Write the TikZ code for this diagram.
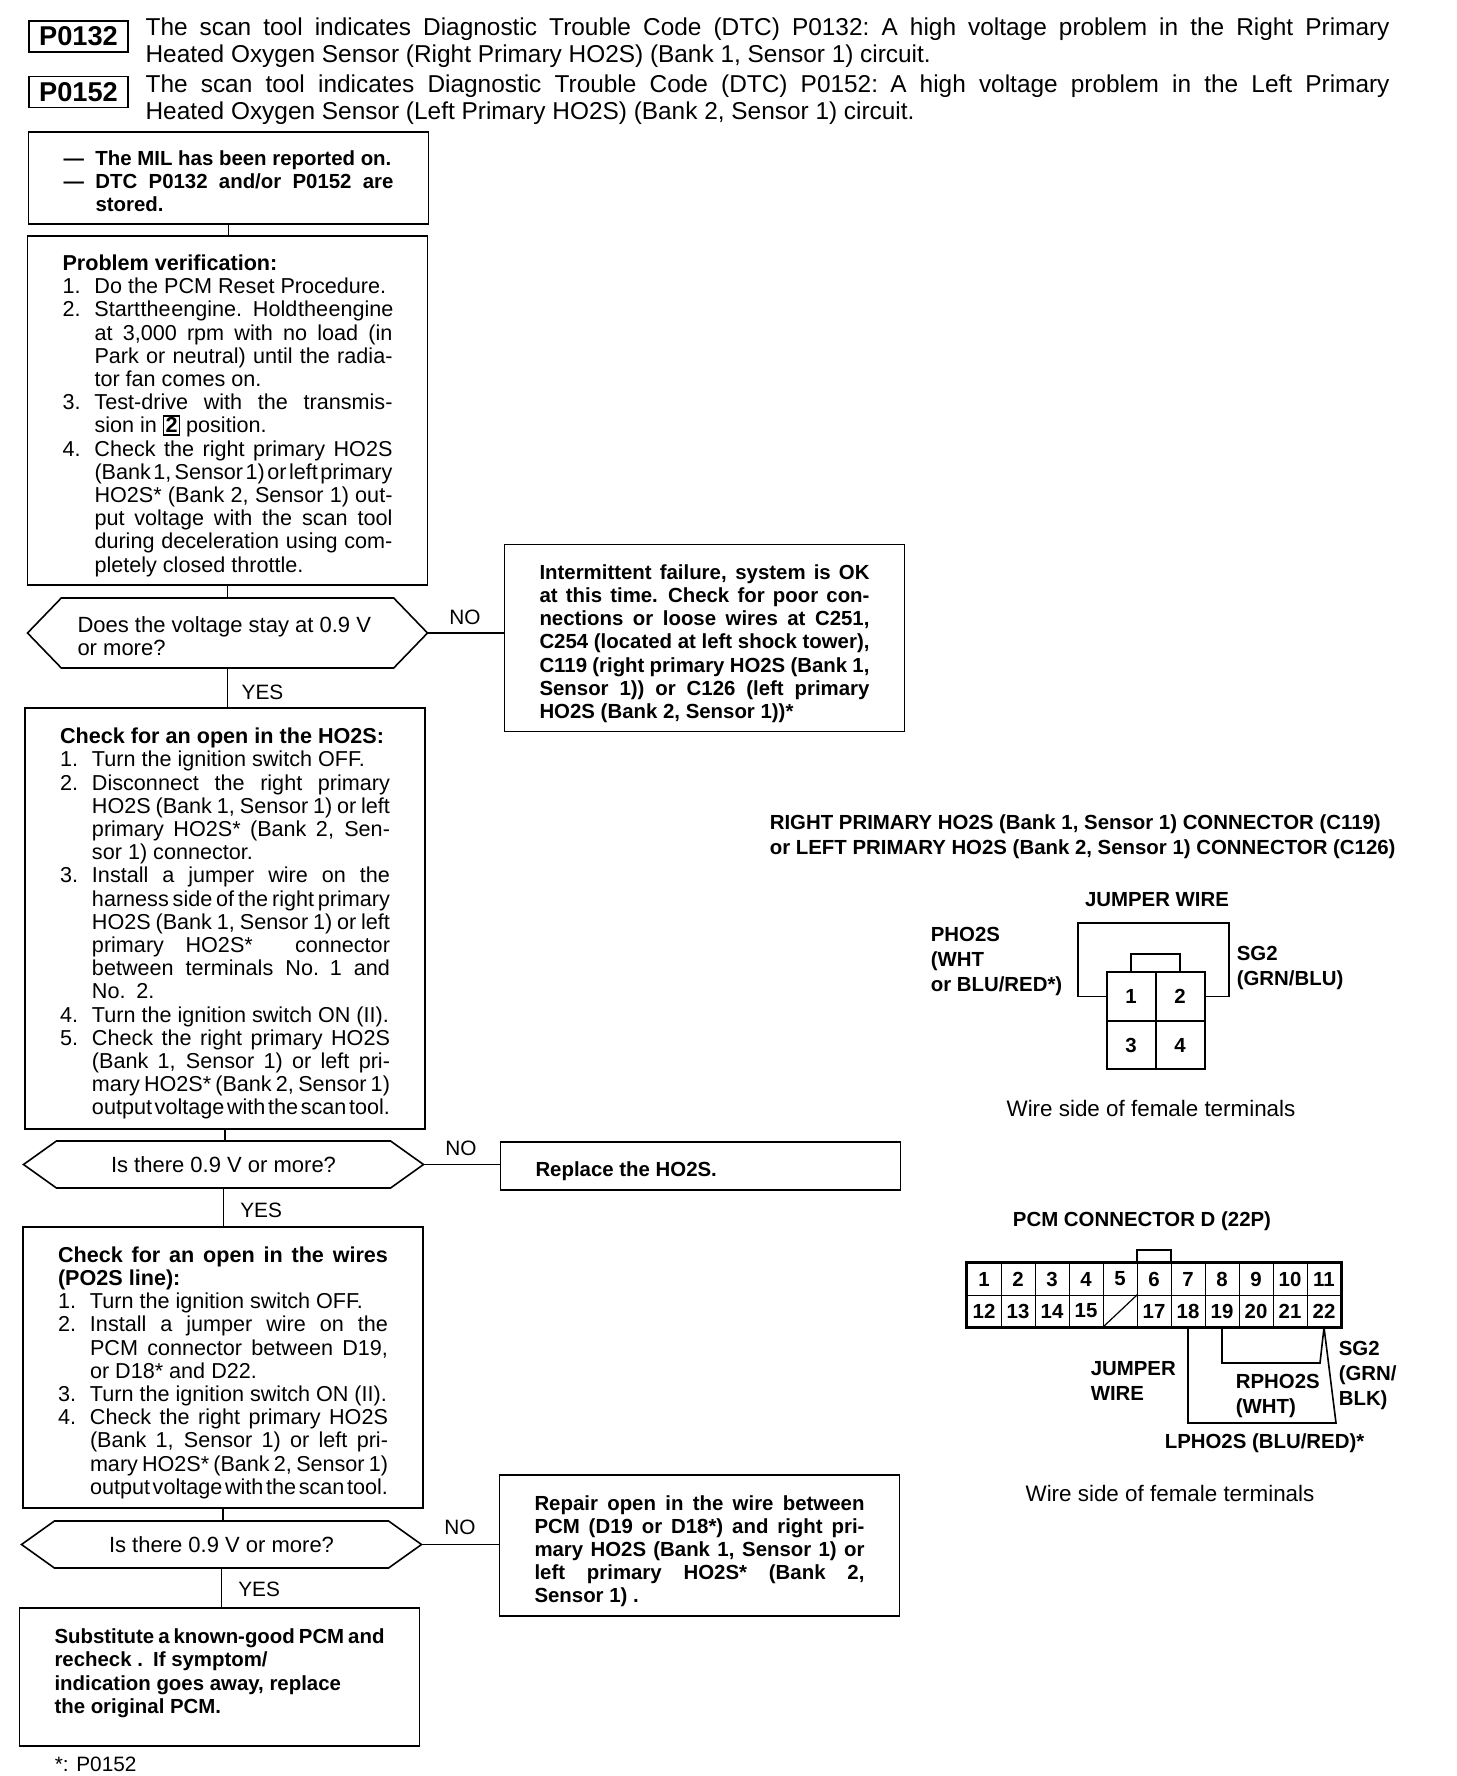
\documentclass[tikz,border=0pt]{standalone}
\usepackage{fontspec}
\setmainfont{Liberation Sans}
\usetikzlibrary{positioning,shapes.symbols}
\newcommand{\skp}{\spaceskip=.278em plus 1em minus .25em\relax}
\newcommand{\jl}[1]{\hbox to \hsize{\skp #1}}
\newcommand{\rl}[1]{\hbox to \hsize{\skp #1\hfil}}
\newcommand{\jn}[2]{\hbox{\hbox to 16pt{#1\hfil}\hbox to 149pt{\skp #2}}}
\newcommand{\rn}[2]{\hbox{\hbox to 16pt{#1\hfil}\hbox to 149pt{\skp #2\hfil}}}
\newcommand{\sq}[1]{{\fboxsep=0.6pt\fboxrule=0.7pt\fbox{\textbf{#1}}}}
\begin{document}
\begin{tikzpicture}[x=0.5pt,y=-0.5pt,line width=0.8pt,
  txt/.style={font=\fontsize{10.8}{11.6}\selectfont},
  bld/.style={font=\fontsize{10.2}{11.6}\selectfont\bfseries},
  bx/.style={draw=black,text width=165pt,inner xsep=17.5pt,inner ysep=0pt,outer sep=0pt,minimum height=#1,execute at begin node=\vskip 1.5pt},
  bx/.default=24pt,
  dc/.style={draw=black,shape=signal,signal to=west and east,signal pointer angle=71,minimum width=200pt,minimum height=23.5pt,inner sep=0pt,outer sep=0pt,font=\fontsize{11}{11.6}\selectfont},
  code/.style={draw=black,minimum width=49.5pt,minimum height=15.5pt,inner sep=0pt,font=\fontsize{13.6}{14}\selectfont\bfseries},
  hd/.style={text width=622pt,inner sep=0pt,font=\fontsize{12.2}{13.4}\selectfont},
  lb/.style={inner sep=0pt,align=left,font=\fontsize{10.2}{12.5}\selectfont\bfseries},
  lbt/.style={inner sep=0pt,align=left,font=\fontsize{11.2}{12.5}\selectfont},
  yn/.style={inner sep=0pt,font=\fontsize{10.4}{12}\selectfont},
  cl/.style={draw=black,line width=0.5pt,minimum width=24pt,minimum height=23.75pt,inner sep=0pt,bld},
  pn/.style={draw=black,line width=0.4pt,minimum width=17pt,minimum height=16pt,inner sep=0pt,bld}]
  \useasboundingbox (0,0) rectangle (1456,1776);
  \node[code] (p0132) at (78.5,36.5) {P0132};
  \node[code,below=11.5pt of p0132] (p0152) {P0152};
  \node[hd,right=8pt of p0132,yshift=-3.2pt] (t0132) {
    \jl{The scan tool indicates Diagnostic Trouble Code (DTC) P0132: A high voltage problem in the Right Primary}
    \rl{Heated Oxygen Sensor (Right Primary HO2S) (Bank 1, Sensor 1) circuit.}};
  \node[hd,right=8pt of p0152,yshift=-3.7pt] (t0152) {
    \jl{The scan tool indicates Diagnostic Trouble Code (DTC) P0152: A high voltage problem in the Left Primary}
    \rl{Heated Oxygen Sensor (Left Primary HO2S) (Bank 2, Sensor 1) circuit.}};

  \node[bx=46pt,bld,execute at begin node=\vskip -2.3pt] (mil) at (228.5,178) {
    \rn{---}{The MIL has been reported on.}
    \jn{---}{DTC P0132 and/or P0152 are}
    \rn{}{stored.}};
  \node[bx=174.5pt,txt,below=6pt of mil,xshift=-0.5pt] (prob) {
    \rl{\textbf{Problem verification:}}
    \rn{1.}{Do the PCM Reset Procedure.}
    \jn{2.}{Start the engine. Hold the engine}
    \jn{}{at 3,000 rpm with no load (in}
    \jn{}{Park or neutral) until the radia-}
    \rn{}{tor fan comes on.}
    \jn{3.}{Test-drive with the transmis-}
    \rn{}{sion in \sq{2} position.}
    \jn{4.}{Check the right primary HO2S}
    \jn{}{(Bank 1, Sensor 1) or left primary}
    \jn{}{HO2S* (Bank 2, Sensor 1) out-}
    \jn{}{put voltage with the scan tool}
    \jn{}{during deceleration using com-}
    \rn{}{pletely closed throttle.}};
  \node[dc,below=6.5pt of prob,minimum height=35pt,signal pointer angle=92] (volt) {\vbox{\hsize=150pt\vskip 3pt\rl{Does the voltage stay at 0.9 V}\rl{or more?}}};
  \node[bx=93.5pt,bld,right=38.5pt of volt,yshift=-2.5pt] (intm) {
    \jl{Intermittent failure, system is OK}
    \jl{at this time. Check for poor con-}
    \jl{nections or loose wires at C251,}
    \jl{C254 (located at left shock tower),}
    \jl{C119 (right primary HO2S (Bank 1,}
    \jl{Sensor 1)) or C126 (left primary}
    \rl{HO2S (Bank 2, Sensor 1))*}};
  \node[yn,right=10.5pt of volt.east,yshift=8pt] (no1) {NO};
  \node[yn,below right=8pt and 6.7pt of volt.south] (yes1) {YES};

  \node[bx=210.5pt,txt,below=20pt of volt,xshift=-1.25pt] (hoos) {
    \rl{\textbf{Check for an open in the HO2S:}}
    \rn{1.}{Turn the ignition switch OFF.}
    \jn{2.}{Disconnect the right primary}
    \jn{}{HO2S (Bank 1, Sensor 1) or left}
    \jn{}{primary HO2S* (Bank 2, Sen-}
    \rn{}{sor 1) connector.}
    \jn{3.}{Install a jumper wire on the}
    \jn{}{harness side of the right primary}
    \jn{}{HO2S (Bank 1, Sensor 1) or left}
    \jn{}{primary\quad HO2S* connector}
    \jn{}{between terminals No. 1 and}
    \rn{}{No. 2.}
    \rn{4.}{Turn the ignition switch ON (II).}
    \jn{5.}{Check the right primary HO2S}
    \jn{}{(Bank 1, Sensor 1) or left pri-}
    \jn{}{mary HO2S* (Bank 2, Sensor 1)}
    \jn{}{output voltage with the scan tool.}};
  \node[dc,below=6pt of hoos,xshift=-0.75pt] (chk1) {Is there 0.9 V or more?};
  \node[bx=24pt,bld,right=38.5pt of chk1,yshift=-0.75pt] (repl) {\rl{Replace the HO2S.}};
  \node[yn,right=10.5pt of chk1.east,yshift=8pt] (no2) {NO};
  \node[yn,below right=7pt and 8pt of chk1.south] (yes2) {YES};

  \node[bx=140.5pt,txt,below=19.5pt of chk1,xshift=-0.25pt] (wire) {
    \jl{\textbf{Check for an open in the wires}}
    \rl{\textbf{(PO2S line):}}
    \rn{1.}{Turn the ignition switch OFF.}
    \jn{2.}{Install a jumper wire on the}
    \jn{}{PCM connector between D19,}
    \rn{}{or D18* and D22.}
    \rn{3.}{Turn the ignition switch ON (II).}
    \jn{4.}{Check the right primary HO2S}
    \jn{}{(Bank 1, Sensor 1) or left pri-}
    \jn{}{mary HO2S* (Bank 2, Sensor 1)}
    \jn{}{output voltage with the scan tool.}};
  \node[dc,below=6.5pt of wire,xshift=-0.75pt] (chk2) {Is there 0.9 V or more?};
  \node[bx=70.5pt,bld,right=39pt of chk2,yshift=-0.5pt] (rpr) {
    \jl{Repair open in the wire between}
    \jl{PCM (D19 or D18*) and right pri-}
    \jl{mary HO2S (Bank 1, Sensor 1) or}
    \jl{left primary HO2S* (Bank 2,}
    \rl{Sensor 1) .}};
  \node[yn,right=11pt of chk2.east,yshift=8.5pt] (no3) {NO};
  \node[yn,below right=6.5pt and 8pt of chk2.south] (yes3) {YES};

  \node[bx=69pt,bld,below=20pt of chk2,xshift=-1pt] (sub) {
    \jl{Substitute a known-good PCM and}
    \rl{recheck . If symptom/}
    \rl{indication goes away, replace}
    \rl{the original PCM.}
    \hbox{}};
  \node[yn,anchor=west] (note) at (54,1764) {*: P0152};

  \draw (mil.south) -- (mil.south |- prob.north);
  \draw (prob.south) -- (prob.south |- volt.north);
  \draw (volt.south) -- (volt.south |- hoos.north);
  \draw (hoos.south) -- (hoos.south |- chk1.north);
  \draw (chk1.south) -- (chk1.south |- wire.north);
  \draw (wire.south) -- (wire.south |- chk2.north);
  \draw (chk2.south) -- (chk2.south |- sub.north);
  \draw (volt.east) -- (volt.east -| intm.west);
  \draw (chk1.east) -- (chk1.east -| repl.west);
  \draw (chk2.east) -- (chk2.east -| rpr.west);

  \node[lb,anchor=west] (ttl) at (769,837) {RIGHT PRIMARY HO2S (Bank 1, Sensor 1) CONNECTOR (C119)\\or LEFT PRIMARY HO2S (Bank 2, Sensor 1) CONNECTOR (C126)};
  \node[cl] (c1) at (1131,996.5) {1};
  \node[cl,right=0pt of c1] (c2) {2};
  \node[cl,below=0pt of c1] (c3) {3};
  \node[cl,below=0pt of c2] (c4) {4};
  \coordinate (jl) at (1078,923);
  \coordinate (jr) at (1229,923);
  \draw (c1.west) -| (jl) -- (jr) |- (c2.east);
  \draw (c1.north) -- ++(0,9pt) -| (c2.north);
  \draw[line width=1pt] (c1.north west) rectangle (c4.south east);
  \node[lb] (jmp) at (1157,900) {JUMPER WIRE};
  \node[lb,anchor=west] (pho) at (930,961) {PHO2S\\(WHT\\or BLU/RED*)};
  \node[lb,anchor=west] (sgt) at (1236,968) {SG2\\(GRN/BLU)};
  \node[lbt] (wsa) at (1151,1108) {Wire side of female terminals};

  \node[lb] (pcm) at (1142,1221) {PCM CONNECTOR D (22P)};
  \foreach \n in {1,...,11} {
    \node[pn] (p\n) at ({950+34*\n},1279) {\n};
  }
  \foreach \n [evaluate=\n as \m using int(\n+11)] in {1,...,11} {
    \ifnum\n=5
      \node[pn] (p\m) at ({950+34*\n},1311) {};
    \else
      \node[pn] (p\m) at ({950+34*\n},1311) {\m};
    \fi
  }
  \draw[line width=0.6pt] (p16.south west) -- (p16.north east);
  \draw[line width=1.2pt] (p1.north west) rectangle (p22.south east);
  \draw[line width=1pt] (p6.north west) -- ++(0,6.5pt) -| (p6.north east);
  \coordinate (jc) at (1320,1363);
  \coordinate (ld) at (1336,1423);
  \draw (p19.south) |- (jc) -- (p22.south);
  \draw (p18.south) |- (ld) -- (p22.south);
  \node[lb,anchor=west] (jw) at (1090,1380.5) {JUMPER\\WIRE};
  \node[lb,anchor=west] (rph) at (1235,1396) {RPHO2S\\(WHT)};
  \node[lb,anchor=west] (sgb) at (1338,1375) {SG2\\(GRN/\\BLK)};
  \node[lb,anchor=west] (lph) at (1164,1443) {LPHO2S (BLU/RED)*};
  \node[lbt] (wsb) at (1170,1493) {Wire side of female terminals};
\end{tikzpicture}
\end{document}
